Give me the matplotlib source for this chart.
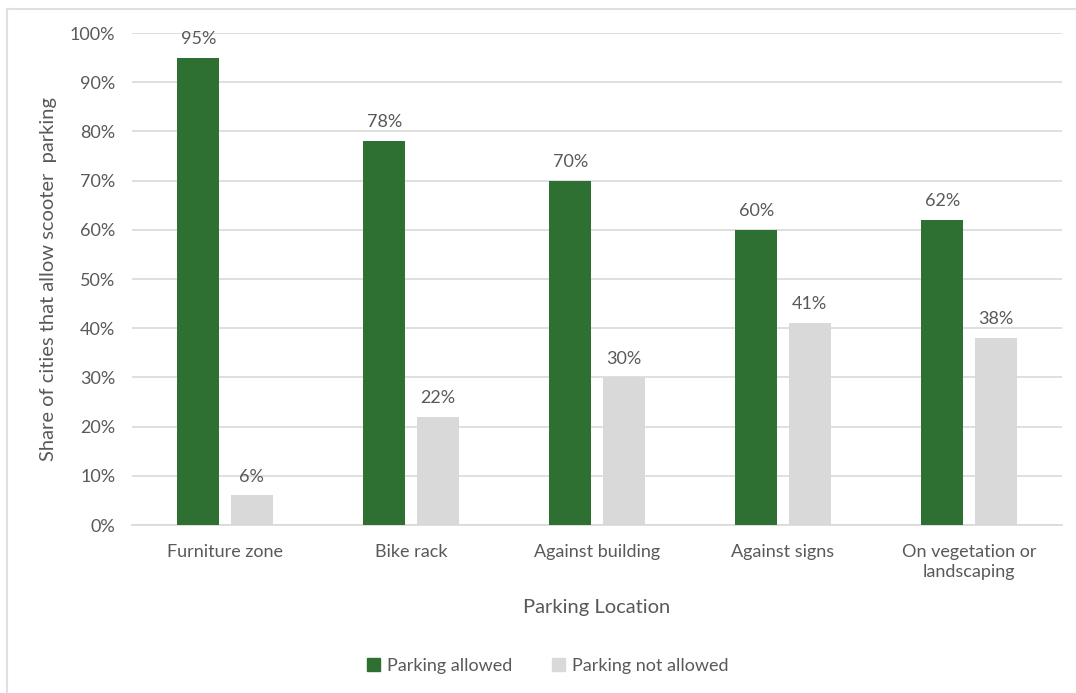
import numpy as np
import matplotlib
matplotlib.use("Agg")
from matplotlib import pyplot as plt
from matplotlib.lines import Line2D
from matplotlib.patches import Patch

# Parking rules by location
locations = ["Furniture zone", "Bike rack", "Against building",
             "Against signs", "On vegetation or\nlandscaping"]
allowed = [95, 78, 70, 60, 62]
not_allowed = [6, 22, 30, 41, 38]
y_ticks = [0, 10, 20, 30, 40, 50, 60, 70, 80, 90, 100]

green = "#2E7031"
grey = "#D9D9D9"
text_col = "#595959"

plt.rcParams["font.family"] = ["Lato", "DejaVu Sans"]

fig = plt.figure(figsize=(10.76, 6.93), dpi=100)
ax = fig.add_axes([132 / 1076, 1 - 525 / 693, 930 / 1076, 492 / 693])

x = np.arange(len(locations))
w = 0.226
off = 0.143
b1 = ax.bar(x - off, allowed, w, color=green, zorder=3)
b2 = ax.bar(x + off, not_allowed, w, color=grey, zorder=3)

for bars, vals in ((b1, allowed), (b2, not_allowed)):
    for rect, v in zip(bars, vals):
        ax.text(rect.get_x() + rect.get_width() / 2, v + 2.2, f"{v}%",
                ha="center", va="bottom", fontsize=13, color=text_col)

ax.set_xlim(-0.5, len(locations) - 0.5)
ax.set_ylim(0, 100)
ax.set_yticks(y_ticks)
ax.set_yticklabels([f"{t}%" for t in y_ticks])
ax.set_xticks(x)
ax.set_xticklabels(locations, linespacing=1.25)
ax.tick_params(axis="both", length=0, labelsize=13, colors=text_col)
ax.tick_params(axis="x", pad=14)
ax.tick_params(axis="y", pad=12)
ax.grid(axis="y", color=grey, linewidth=1.2, zorder=0)
for s in ("top", "right", "left"):
    ax.spines[s].set_visible(False)
ax.spines["bottom"].set_color(grey)
ax.spines["bottom"].set_linewidth(1.2)

ax.set_ylabel("Share of cities that allow scooter  parking", fontsize=14.5,
              color=text_col, labelpad=9)
fig.text(597 / 1076, 1 - 608 / 693, "Parking Location", ha="center",
         va="center", fontsize=14.5, color=text_col)

handles = [Patch(color=green, label="Parking allowed"),
           Patch(color=grey, label="Parking not allowed")]
fig.legend(handles=handles, loc="center", bbox_to_anchor=(548 / 1076, 1 - 666 / 693),
           ncol=2, frameon=False, fontsize=13, labelcolor=text_col,
           handlelength=0.7, handleheight=0.7, handletextpad=0.4, columnspacing=2.2)

# light frame round the chart
fig.add_artist(Line2D([7 / 1076, 7 / 1076], [0, 1 - 9 / 693], transform=fig.transFigure,
                      color="#E0E0E0", linewidth=1.5))
fig.add_artist(Line2D([7 / 1076, 1], [1 - 9 / 693, 1 - 9 / 693], transform=fig.transFigure,
                      color="#E0E0E0", linewidth=1.5))

fig.savefig("out.png", dpi=100)
